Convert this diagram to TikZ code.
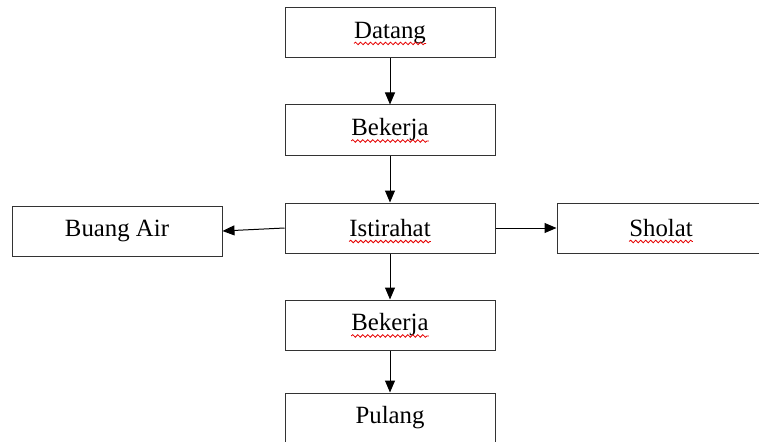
\documentclass[tikz,border=0pt]{standalone}
\usepackage{fontspec}
\setmainfont{Liberation Serif}
\usetikzlibrary{arrows.meta,decorations.pathmorphing}
\begin{document}
\begin{tikzpicture}[x=1pt,y=-1pt,
  box/.style={draw=black!80,line width=1pt,minimum width=210pt,minimum height=50pt,inner sep=0pt},
  word/.style={inner sep=0pt,font=\fontsize{24.8}{29}\selectfont},
  arr/.style={line width=1pt,-{Triangle[length=12pt,width=10pt]}},
  wave/.style={red!90!black,line width=0.8pt,decorate,decoration={snake,amplitude=1.3pt,segment length=5pt}}]
\useasboundingbox (0,0) rectangle (759,441);
\node[box] (datang) at (390,33) {};
\node[box] (bekerja1) at (390,130) {};
\node[box] (istirahat) at (390,228) {};
\node[box] (buang) at (117,231) {};
\node[box,minimum width=208pt] (sholat) at (661,228) {};
\node[box] (bekerja2) at (390,325) {};
\node[box] (pulang) at (390,418) {};
\node[word] (tdatang) at (datang) {Datang};
\node[word] (tbekerja1) at (bekerja1) {Bekerja};
\node[word] (tistirahat) at (istirahat) {Istirahat};
\node[word] (tbuang) at (buang) {Buang Air};
\node[word] (tsholat) at (sholat) {Sholat};
\node[word] (tbekerja2) at (bekerja2) {Bekerja};
\node[word] (tpulang) at (pulang) {Pulang};
\foreach \t in {tdatang,tbekerja1,tistirahat,tsholat,tbekerja2}{
  \draw[wave] ([yshift=-5pt]\t.base west) -- ([yshift=-5pt]\t.base east);
}
\draw[arr] (datang) -- (bekerja1);
\draw[arr] (bekerja1) -- (istirahat);
\draw[arr] (istirahat.west) -- (buang.east);
\draw[arr] (istirahat.east) -- (sholat.west);
\draw[arr] (istirahat) -- (bekerja2);
\draw[arr] (bekerja2) -- (pulang);
\end{tikzpicture}
\end{document}
